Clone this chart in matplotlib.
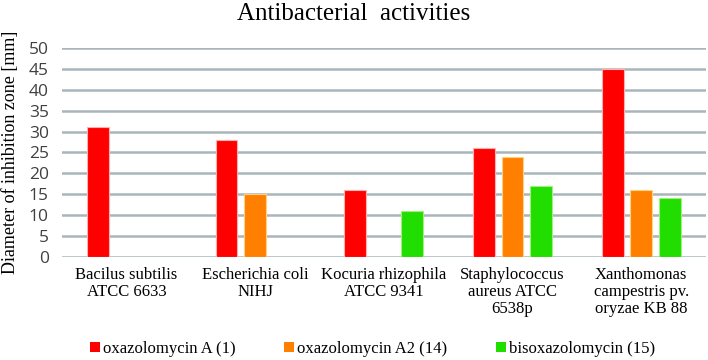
import numpy as np
import matplotlib
matplotlib.use("Agg")
import matplotlib.pyplot as plt
from matplotlib.patches import Patch

# data
categories = [
    "Bacilus subtilis\nATCC 6633",
    "Escherichia coli\nNIHJ",
    "Kocuria rhizophila\nATCC 9341",
    "Staphylococcus\naureus ATCC\n6538p",
    "Xanthomonas\ncampestris pv.\noryzae KB 88",
]
series_names = ["oxazolomycin A (1)", "oxazolomycin A2 (14)", "bisoxazolomycin (15)"]
oxazolomycin_a = [31, 28, 16, 26, 45]
oxazolomycin_a2 = [0, 15, 0, 24, 16]
bisoxazolomycin = [0, 0, 11, 17, 14]
y_ticks = [0, 5, 10, 15, 20, 25, 30, 35, 40, 45, 50]

colors = ["#FF0000", "#FF8000", "#22DD00"]
edges = ["#FFB0B0", "#FFD080", "#A0F080"]
serif = "Liberation Serif"

fig = plt.figure(figsize=(7.08, 3.6), dpi=100)
ax = fig.add_axes([0.0876, 0.286, 0.909, 0.581])

x = np.arange(len(categories))
width = 0.17
step = 0.222
for i, vals in enumerate([oxazolomycin_a, oxazolomycin_a2, bisoxazolomycin]):
    vals = np.array(vals, dtype=float)
    mask = vals > 0
    ax.bar(x[mask] + (i - 1) * step, vals[mask], width, color=colors[i],
           edgecolor=edges[i], linewidth=0.8, zorder=3)

ax.set_xlim(-0.5, len(categories) - 0.5)
ax.set_ylim(0, 50)
ax.set_yticks(y_ticks)
ax.yaxis.grid(True, color="#A9B5BA", linewidth=1.8, zorder=0)
ax.set_axisbelow(True)
for s in ax.spines.values():
    s.set_visible(False)
ax.tick_params(axis="both", length=0)
ax.tick_params(axis="y", labelsize=12.5, labelcolor="#404040", pad=9.5)
for lbl in ax.get_yticklabels():
    lbl.set_family("Open Sans")

ax.set_xticks(x)
ax.set_xticklabels(categories, family=serif, fontsize=12, linespacing=1.1)
ax.tick_params(axis="x", pad=7)

ax.set_ylabel("Diameter of inhibition zone [mm]", family=serif, fontsize=13)
ax.yaxis.set_label_coords(-0.067, 0.5)

fig.text(0.5, 0.944, "Antibacterial  activities", family=serif, fontsize=18,
         ha="center", va="baseline")

handles = [Patch(facecolor=c, edgecolor="none") for c in colors]
fig.legend(handles, series_names, loc="center", bbox_to_anchor=(0.526, 0.031),
           ncol=3, frameon=False, prop={"family": serif, "size": 12},
           handlelength=0.6, handleheight=0.6, handletextpad=0.2, columnspacing=2.9)

fig.savefig("out.png", dpi=100)
